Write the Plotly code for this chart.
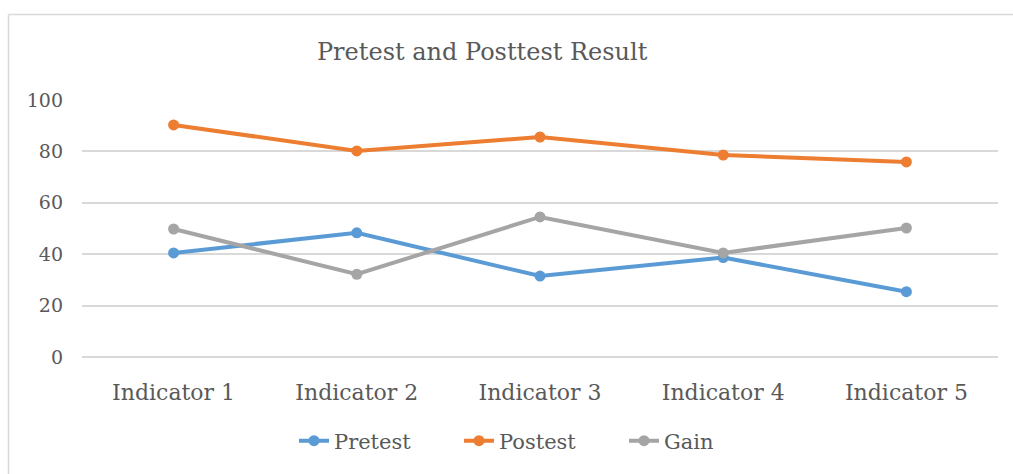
import plotly.graph_objects as go

categories = ["Indicator 1", "Indicator 2", "Indicator 3", "Indicator 4", "Indicator 5"]
pretest = [40.5, 48.3, 31.5, 38.7, 25.4]
postest = [90.3, 80.2, 85.6, 78.6, 75.9]
gain = [49.8, 32.2, 54.5, 40.5, 50.2]
y_ticks = [0, 20, 40, 60, 80, 100]

FONT = "DejaVu Serif"
TXT = "#595959"

fig = go.Figure()
for name, vals, col in [("Pretest", pretest, "#5B9BD5"),
                        ("Postest", postest, "#ED7D31"),
                        ("Gain", gain, "#A5A5A5")]:
    fig.add_trace(go.Scatter(x=categories, y=vals, name=name, mode="lines+markers",
                             line=dict(color=col, width=4),
                             marker=dict(color=col, size=11)))

W, H = 1013, 474
l, r, t, b = 82, 15, 100, 117
pw, ph = W - l - r, H - t - b

def px_x(x):
    return (x - l) / pw

def px_y(y):
    return (H - b - y) / ph

fig.update_layout(
    width=W, height=H,
    margin=dict(l=l, r=r, t=t, b=b),
    paper_bgcolor="white", plot_bgcolor="white",
    font=dict(family=FONT, color=TXT, size=19),
    title=dict(text="Pretest and Posttest Result", x=px_x(518), xanchor="center",
               y=1 - 52 / H, yanchor="middle", font=dict(size=24, color=TXT, family=FONT)),
    xaxis=dict(showgrid=False, showline=False, ticks="", tickfont=dict(size=22),
               range=[-0.5, 4.5], ticklabelstandoff=20, fixedrange=True),
    yaxis=dict(range=[0, 100], tickvals=y_ticks, showgrid=True, gridcolor="#D9D9D9",
               gridwidth=1.5, zeroline=True, zerolinecolor="#D9D9D9", zerolinewidth=1.5,
               ticks="", ticklabelstandoff=18, tickfont=dict(size=19), fixedrange=True),
    legend=dict(orientation="h", x=px_x(294), xanchor="left", y=px_y(441), yanchor="middle",
                font=dict(size=21), tracegroupgap=0, entrywidth=120, itemwidth=30),
    showlegend=True,
    shapes=[dict(type="line", xref="paper", yref="paper",
                 x0=px_x(8.5), x1=px_x(1013), y0=px_y(14.5), y1=px_y(14.5),
                 line=dict(color="#D9D9D9", width=1.5), layer="below"),
            dict(type="line", xref="paper", yref="paper",
                 x0=px_x(8.5), x1=px_x(8.5), y0=px_y(14.5), y1=px_y(474),
                 line=dict(color="#D9D9D9", width=1.5), layer="below")],
)

fig.write_html("out.html", config={"displayModeBar": False},
               post_script="document.body.style.margin='0';document.body.style.overflow='hidden';")
